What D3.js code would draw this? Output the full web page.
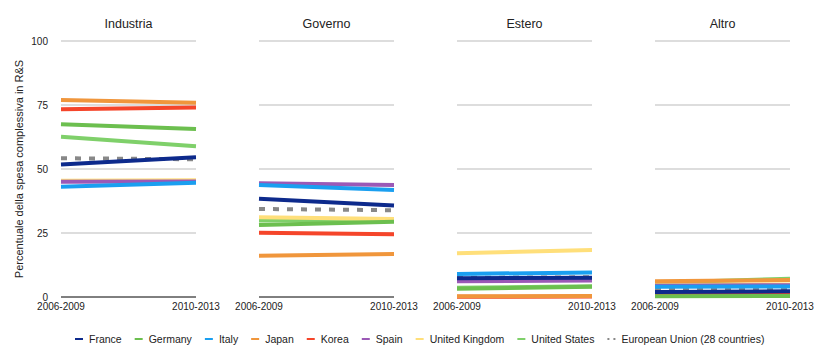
<!DOCTYPE html>
<html>
<head>
<meta charset="utf-8">
<script src="https://cdn.jsdelivr.net/npm/d3@7"></script>
<style>
  body { margin: 0; background: #fff; }
  text { font-family: "Liberation Sans", Arial, sans-serif; fill: #222; }
</style>
</head>
<body>
<svg id="chart" width="830" height="362"></svg>
<script>
// panels and periods
const panels = ['Industria', 'Governo', 'Estero', 'Altro'];
const periods = ['2006-2009', '2010-2013'];
const yTicks = [0, 25, 50, 75, 100];

const countries = ['France', 'Germany', 'Italy', 'Japan', 'Korea', 'Spain',
  'United Kingdom', 'United States', 'European Union (28 countries)'];
const colors = ['#0d2a8c', '#6cbf4f', '#1a9ff0', '#f0963c', '#f5452a', '#9b59b6',
  '#ffdf7a', '#7fd06a', '#888888'];

// [start, end] per panel, in panel order
const France  = [[51.8, 54.6], [38.4, 35.7], [7.3, 7.5], [2.0, 2.2]];
const Germany = [[67.5, 65.6], [28.1, 29.4], [3.2, 4.0], [0.3, 0.4]];
const Italy   = [[43.1, 44.6], [43.75, 41.8], [9.0, 9.6], [4.0, 4.1]];
const Japan   = [[77.0, 75.9], [16.1, 16.8], [0.3, 0.4], [6.2, 6.6]];
const Korea   = [[73.3, 74.0], [25.1, 24.5], [0.1, 0.2], [1.0, 1.1]];
const Spain   = [[45.0, 45.1], [44.4, 43.75], [6.2, 6.4], [4.4, 4.6]];
const UK      = [[45.4, 45.6], [31.2, 30.5], [17.1, 18.4], [4.6, 4.9]];
const US      = [[62.6, 58.9], [29.9, 30.1], [3.6, 4.2], [5.6, 7.1]];
const EU      = [[54.2, 53.8], [34.4, 33.9], [7.5, 7.7], [2.7, 2.8]];
const seriesValues = [France, Germany, Italy, Japan, Korea, Spain, UK, US, EU];

const svg = d3.select('#chart');
const y = d3.scaleLinear().domain([0, 100]).range([297, 41]);
const panelX = d3.scaleBand().domain(panels).range([61, 61 + 198 * 4]).paddingInner(0).paddingOuter(0);
const panelW = 135;

// y axis label
svg.append('text')
  .attr('transform', 'translate(23,169) rotate(-90)')
  .attr('text-anchor', 'middle')
  .style('font-size', '11px')
  .text('Percentuale della spesa complessiva in R&S');

// y tick labels (only left)
svg.selectAll('text.ytick').data(yTicks).enter().append('text')
  .attr('class', 'ytick')
  .attr('x', 48).attr('y', d => y(d) + 3.5)
  .attr('text-anchor', 'end')
  .style('font-size', '10px')
  .text(d => d);

panels.forEach(function(p, pi) {
  const x0 = panelX(p);
  const x = d3.scalePoint().domain(periods).range([x0, x0 + panelW]);
  const g = svg.append('g');

  g.append('text')
    .attr('x', x0 + panelW / 2).attr('y', 28)
    .attr('text-anchor', 'middle')
    .style('font-size', '12.5px')
    .text(p);

  g.selectAll('line.grid').data(yTicks.filter(d => d > 0)).enter().append('line')
    .attr('x1', x0).attr('x2', x0 + panelW)
    .attr('y1', d => y(d)).attr('y2', d => y(d))
    .attr('stroke', '#bbb').attr('stroke-width', 1);

  g.append('line')
    .attr('x1', x0).attr('x2', x0 + panelW)
    .attr('y1', y(0)).attr('y2', y(0))
    .attr('stroke', '#000').attr('stroke-width', 1);

  // drawn last series first, so France ends up on top
  const line = d3.line().x((d, i) => x(periods[i])).y(d => y(d));
  d3.range(seriesValues.length).reverse().forEach(function(si) {
    g.append('path')
      .datum(seriesValues[si][pi])
      .attr('d', line)
      .attr('fill', 'none')
      .attr('stroke', colors[si])
      .attr('stroke-width', 4)
      .attr('stroke-dasharray', si === 8 ? '6,8' : null);
  });

  g.selectAll('text.xtick').data(periods).enter().append('text')
    .attr('x', d => x(d)).attr('y', 310)
    .attr('text-anchor', 'middle')
    .style('font-size', '10px')
    .text(d => d);
});

// legend
const legend = svg.append('g');
let lx = 75;
countries.forEach(function(c, i) {
  legend.append('line')
    .attr('x1', lx).attr('x2', lx + 8)
    .attr('y1', 339).attr('y2', 339)
    .attr('stroke', colors[i]).attr('stroke-width', 2)
    .attr('stroke-dasharray', i === 8 ? '2,4' : null);
  const t = legend.append('text')
    .attr('x', lx + 14).attr('y', 343)
    .style('font-size', '10.5px')
    .text(c);
  lx += 14 + t.node().getComputedTextLength() + 13;
});
</script>
</body>
</html>
